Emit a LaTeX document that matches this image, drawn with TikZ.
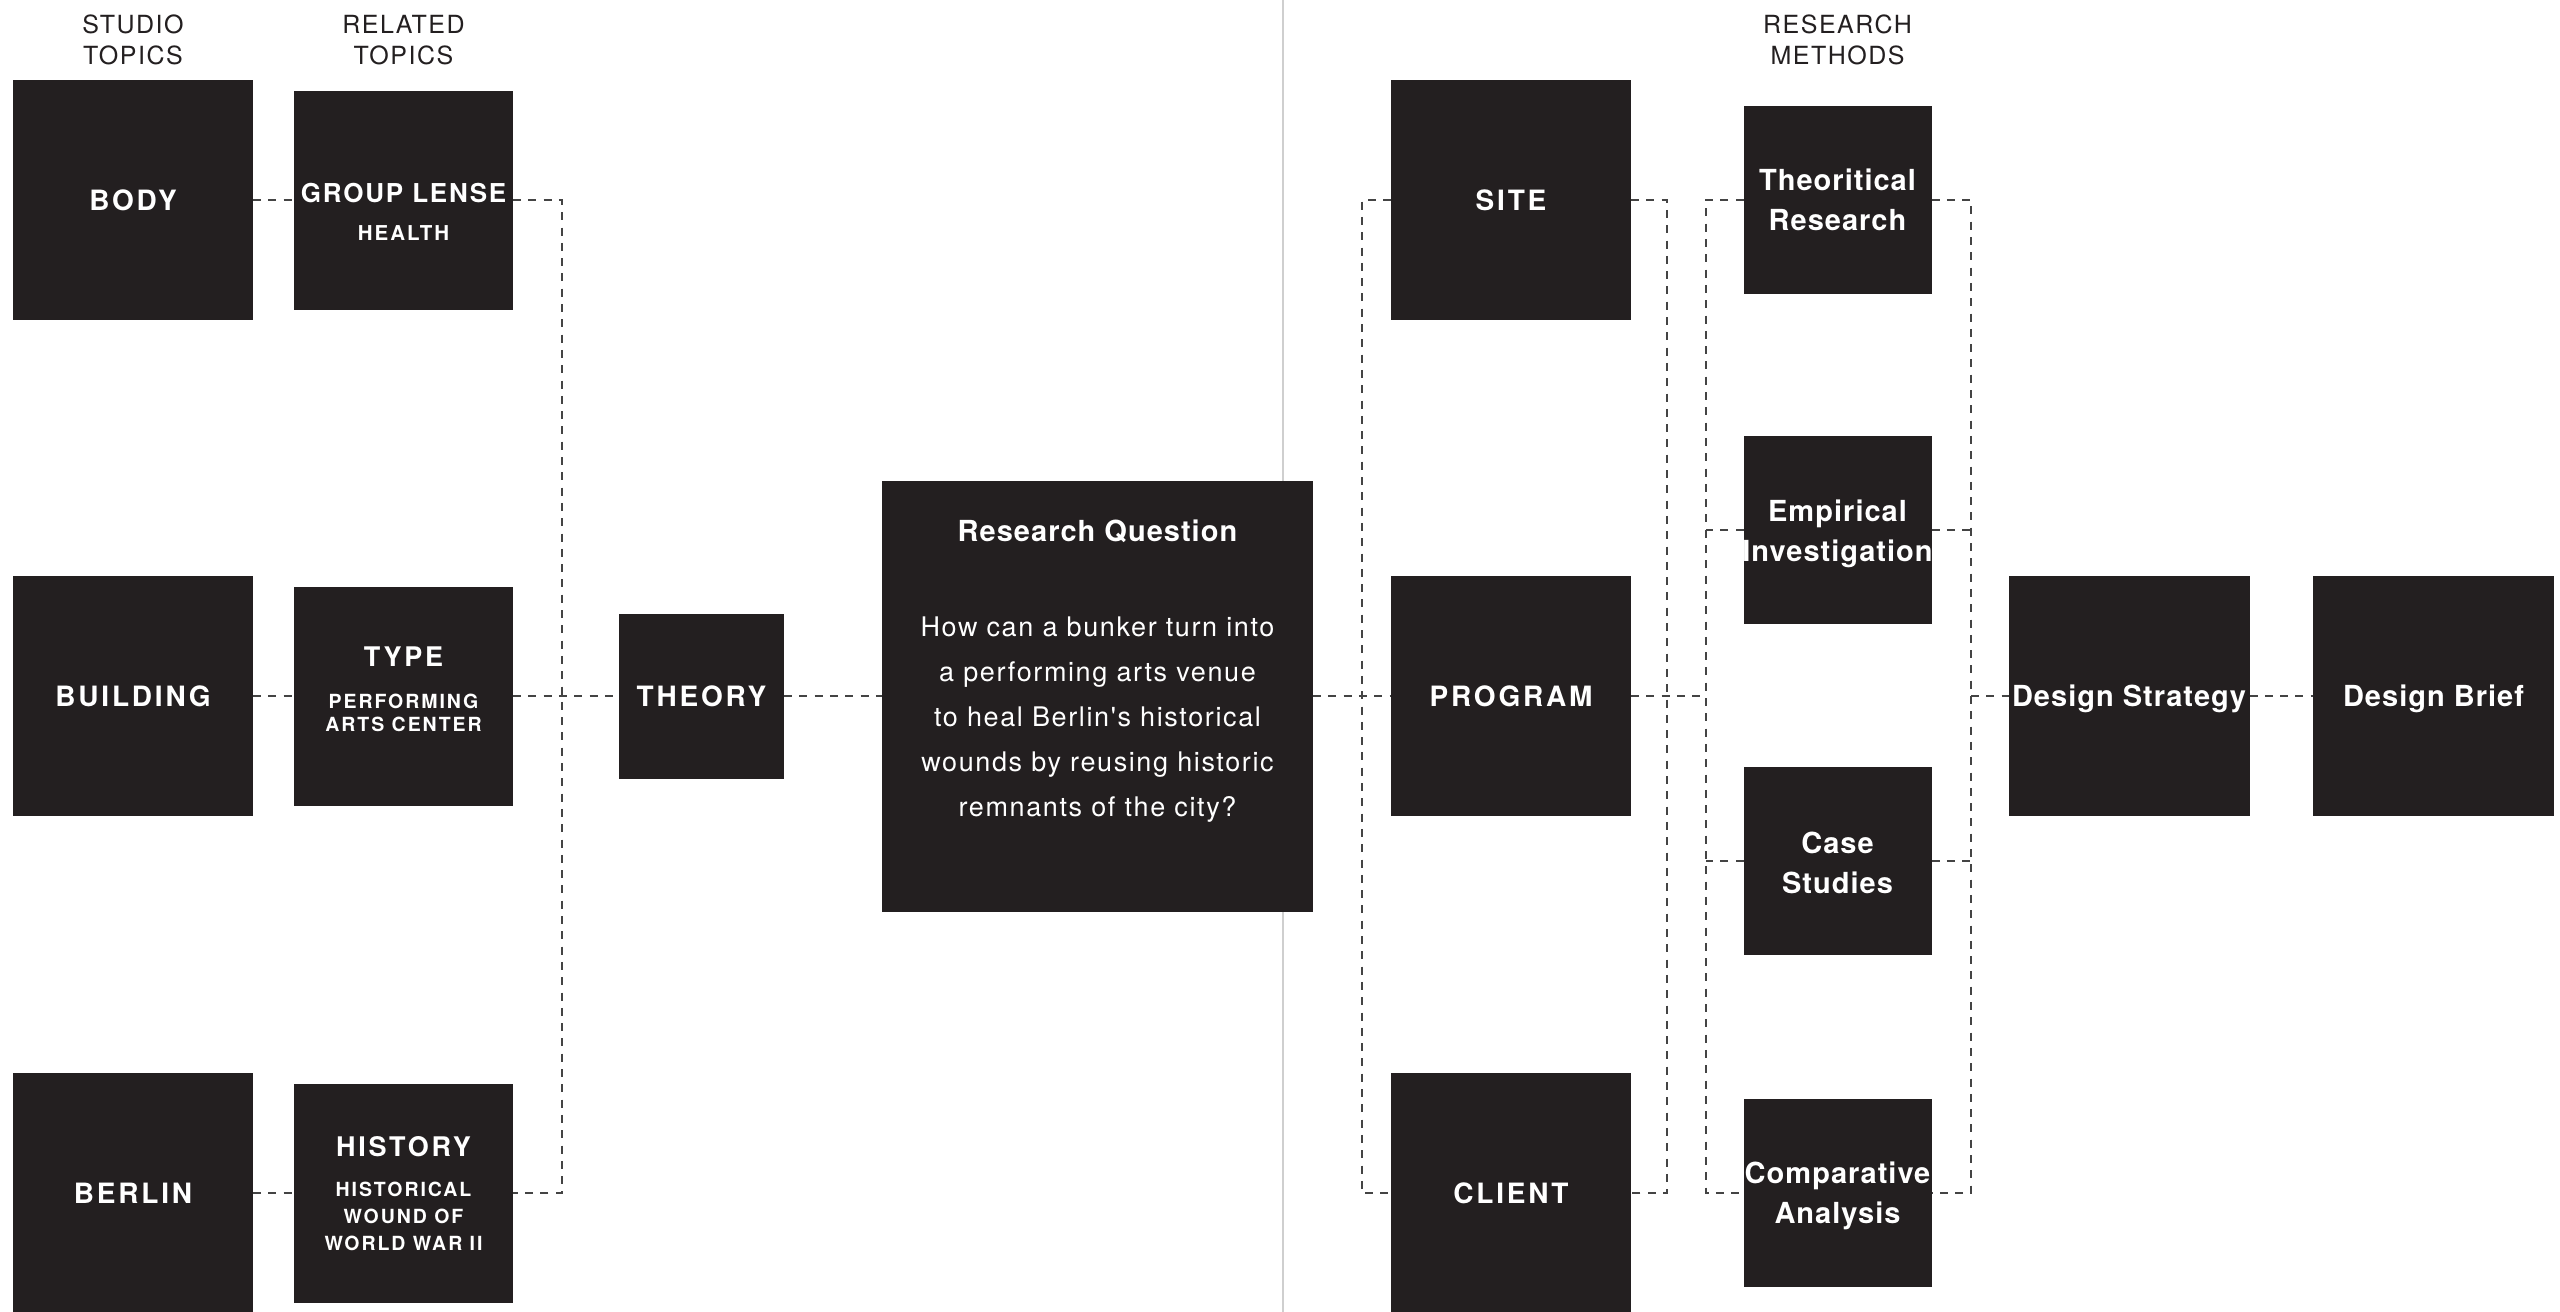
\documentclass[tikz,border=0pt]{standalone}
\usepackage{fontspec}
\setmainfont{TeX Gyre Heros}
% tracked cuts of the same grotesque
\newfontfamily\hvword[LetterSpace=3.5,Ligatures=CommonOff]{TeX Gyre Heros}
\newfontfamily\hvcaps[LetterSpace=10]{TeX Gyre Heros}
\newfontfamily\hvwide[LetterSpace=7]{TeX Gyre Heros}
\newfontfamily\hvbody[LetterSpace=6,Ligatures=CommonOff]{TeX Gyre Heros}
\newfontfamily\hvhead[LetterSpace=6]{TeX Gyre Heros}
\definecolor{ink}{HTML}{231F20}
\definecolor{linkgray}{HTML}{444444}
\definecolor{rulegray}{HTML}{CFCFCF}

\begin{document}
\begin{tikzpicture}[x=1pt,y=-1pt,
  box/.style={rectangle, fill=ink, draw=none, inner sep=0pt, outer sep=0pt, text=white},
  bigbox/.style={box, minimum width=240pt, minimum height=240pt},
  subbox/.style={box, minimum width=219pt, minimum height=219pt},
  methodbox/.style={box, minimum width=188pt, minimum height=188pt},
  capbox/.style={font=\hvcaps\bfseries\fontsize{28pt}{28pt}\selectfont, text height=20.1pt, text depth=0pt},
  wordbox/.style={font=\hvword\bfseries\fontsize{29pt}{29pt}\selectfont, text height=20.8pt, text depth=0pt},
  conn/.style={draw=linkgray, line width=2.7pt, dash pattern=on 8pt off 7.3pt},
  lbl/.style={text=white, inner sep=0pt, anchor=base},
  head/.style={text=ink, inner sep=0pt, anchor=base, font=\hvhead\fontsize{25pt}{25pt}\selectfont},
  ttl/.style={lbl, font=\hvcaps\bfseries\fontsize{27pt}{27pt}\selectfont},
  ttlwide/.style={lbl, font=\hvwide\bfseries\fontsize{26pt}{26pt}\selectfont},
  sub/.style={lbl, font=\hvcaps\bfseries\fontsize{19.5pt}{19.5pt}\selectfont},
  word/.style={lbl, font=\hvword\bfseries\fontsize{29pt}{29pt}\selectfont},
  rqbody/.style={lbl, font=\hvbody\fontsize{27pt}{27pt}\selectfont},
]
\useasboundingbox[fill=white] (0,0) rectangle (2560,1312);

% divider between the two halves
\draw[rulegray, line width=2pt] (1283,0) -- (1283,1312);

% column headings
\node[head] (h-studio-a) at (133,33) {STUDIO};
\node[head] (h-studio-b) at (133,64) {TOPICS};
\node[head] (h-related-a) at (403.5,33) {RELATED};
\node[head] (h-related-b) at (403.5,64) {TOPICS};
\node[head] (h-methods-a) at (1837.5,33) {RESEARCH};
\node[head] (h-methods-b) at (1837.5,64) {METHODS};

% studio topics
\node[bigbox, capbox] (body) at (133,200) {BODY};
\node[bigbox, capbox] (building) at (133,696) {BUILDING};
\node[bigbox, capbox] (berlin) at (133,1193) {BERLIN};

% related topics
\node[subbox] (grouplense) at (403.5,200) {};
\node[ttlwide] (grouplense-a) at (403.5,202) {GROUP LENSE};
\node[sub, font=\hvcaps\bfseries\fontsize{20.5pt}{20.5pt}\selectfont] (grouplense-b) at (403.5,240) {HEALTH};

\node[subbox] (type) at (403.5,696) {};
\node[ttl] (type-a) at (403.5,666) {TYPE};
\node[sub] (type-b) at (403.5,708) {PERFORMING};
\node[sub] (type-c) at (403.5,731) {ARTS CENTER};

\node[subbox] (history) at (403.5,1193) {};
\node[ttl] (history-a) at (403.5,1156) {HISTORY};
\node[sub] (history-b) at (403.5,1196) {HISTORICAL};
\node[sub] (history-c) at (403.5,1223) {WOUND OF};
\node[sub] (history-d) at (403.5,1250) {WORLD WAR II};

% theory and research question
\node[box, capbox, minimum width=165pt, minimum height=165pt] (theory) at (701.5,696) {THEORY};

\node[box, minimum width=431pt, minimum height=431pt] (rq) at (1097.5,696) {};
\node[word] (rq-title) at (1097.5,541) {Research Question};
\node[rqbody] (rq-l1) at (1097.5,636) {How can a bunker turn into};
\node[rqbody] (rq-l2) at (1097.5,681) {a performing arts venue};
\node[rqbody] (rq-l3) at (1097.5,726) {to heal Berlin's historical};
\node[rqbody] (rq-l4) at (1097.5,771) {wounds by reusing historic};
\node[rqbody] (rq-l5) at (1097.5,816) {remnants of the city?};

% site, program, client
\node[bigbox, capbox] (site) at (1511,200) {SITE};
\node[bigbox, capbox] (program) at (1511,696) {PROGRAM};
\node[bigbox, capbox] (client) at (1511,1193) {CLIENT};

% research methods
\node[methodbox] (theoretical) at (1837.5,200) {};
\node[word] (theoretical-a) at (1837.5,190) {Theoritical};
\node[word] (theoretical-b) at (1837.5,230) {Research};

\node[methodbox] (empirical) at (1837.5,530) {};
\node[word] (empirical-a) at (1837.5,521) {Empirical};
\node[word] (empirical-b) at (1837.5,561) {Investigation};

\node[methodbox] (casestudies) at (1837.5,861) {};
\node[word] (casestudies-a) at (1837.5,853) {Case};
\node[word] (casestudies-b) at (1837.5,893) {Studies};

\node[methodbox] (comparative) at (1837.5,1193) {};
\node[word] (comparative-a) at (1837.5,1183) {Comparative};
\node[word] (comparative-b) at (1837.5,1223) {Analysis};

% outcomes
\node[box, wordbox, minimum width=241pt, minimum height=240pt] (strategy) at (2129,696) {Design Strategy};
\node[box, wordbox, minimum width=241pt, minimum height=240pt] (brief) at (2433.5,696) {Design Brief};

% junctions of the brackets
\coordinate (jL) at (562,696);
\coordinate (jS) at (1362,696);
\coordinate (jR) at (1667,696);
\coordinate (jM) at (1706,696);
\coordinate (jN) at (1971,696);

% dashed connectors
\draw[conn] (body.east) -- (grouplense.west);
\draw[conn] (building.east) -- (type.west);
\draw[conn] (berlin.east) -- (history.west);
\draw[conn] (grouplense.east) -| (jL) |- (history.east);
\draw[conn] (type.east) -- (theory.west);
\draw[conn] (theory.east) -- (rq.west);
\draw[conn] (rq.east) -- (program.west);
\draw[conn] (site.west) -| (jS) |- (client.west);
\draw[conn] (site.east) -| (jR) |- (client.east);
\draw[conn] (program.east) -- (jM);
\draw[conn] (theoretical.west) -| (jM) |- (comparative.west);
\draw[conn] (empirical.west) -- (empirical.west -| jM);
\draw[conn] (casestudies.west) -- (casestudies.west -| jM);
\draw[conn] (theoretical.east) -| (jN) |- (comparative.east);
\draw[conn] (empirical.east) -- (empirical.east -| jN);
\draw[conn] (casestudies.east) -- (casestudies.east -| jN);
\draw[conn] (jN) -- (strategy.west);
\draw[conn] (strategy.east) -- (brief.west);
\end{tikzpicture}
\end{document}
